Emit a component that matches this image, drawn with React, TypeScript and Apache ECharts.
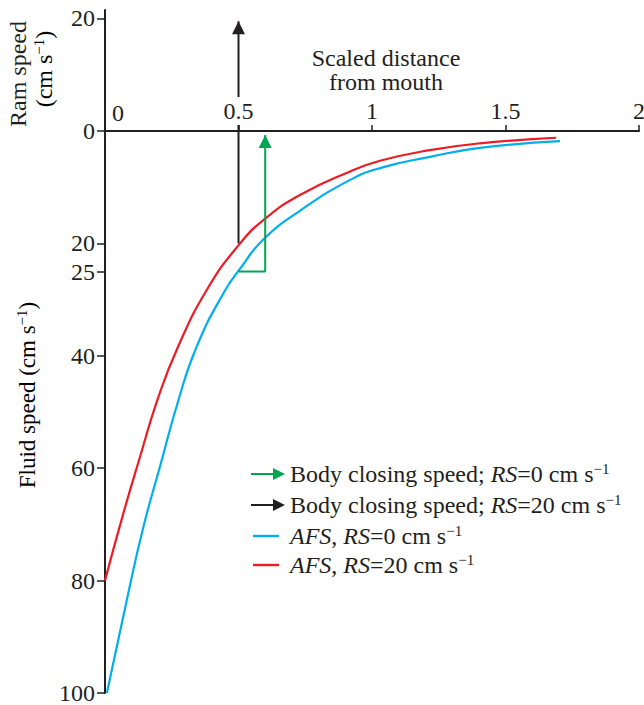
import React, { useEffect, useRef } from 'react';
import * as echarts from 'echarts';

// ---- data ----
const DIST_MIN = 0;
const DIST_MAX = 2;
const DIST_STEP = 0.5;
const FLUID_TICKS = [0, 20, 25, 40, 60, 80, 100];
const RAM_TICKS = [20];

// Ambient fluid speed (AFS), RS = 0 cm/s (blue)
const AFS_RS0_X = [0.007, 0.091, 0.144, 0.206, 0.275, 0.343, 0.443, 0.506, 0.593, 0.73, 0.918, 1.03, 1.217, 1.404, 1.704];
const AFS_RS0_Y = [100, 81.4, 70.4, 59.7, 47.9, 38.4, 28.9, 24.5, 19.3, 14.2, 8.7, 6.6, 4.6, 3.0, 1.8];

// Ambient fluid speed (AFS), RS = 20 cm/s (red)
const AFS_RS20_X = [0, 0.069, 0.131, 0.196, 0.268, 0.381, 0.506, 0.6, 0.73, 0.918, 1.03, 1.217, 1.404, 1.69];
const AFS_RS20_Y = [80, 68, 58, 47.9, 39, 28.3, 20.0, 15.6, 11.4, 7.2, 5.3, 3.4, 2.2, 1.2];

// Body closing speed, RS = 0 (green): fluid-speed panel path
const CLOSE_RS0_X = [0.5, 0.6, 0.6];
const CLOSE_RS0_Y = [25, 25, 0.7];

// Body closing speed, RS = 20 (black): fluid-speed part and ram-speed part
const CLOSE_RS20_FLUID_X = [0.5, 0.5];
const CLOSE_RS20_FLUID_Y = [20, 0];
const CLOSE_RS20_RAM_X = [0.5, 0.5];
const CLOSE_RS20_RAM_Y = [0, 19.5];

const N_CLOSE0 = 'Body closing speed; RS=0 cm s−1';
const N_CLOSE20 = 'Body closing speed; RS=20 cm s−1';
const N_AFS0 = 'AFS, RS=0 cm s−1';
const N_AFS20 = 'AFS, RS=20 cm s−1';

const FONT = '"Liberation Serif", "Times New Roman", serif';
const INK = '#231F20';
const BLUE = '#00AEEF';
const RED = '#ED1C24';
const GREEN = '#00A651';

const ARROW_ICON = 'path://M0,5H23V7H0Z M22,0L34,6L22,12Z';
const LINE_ICON = 'path://M0,0H26V2.4H0Z';

const zip = (xs: number[], ys: number[]) => xs.map((x, i) => [x, ys[i]]);

const arrowData = (xs: number[], ys: number[]) =>
  xs.map((x, i) =>
    i === xs.length - 1
      ? { value: [x, ys[i]], symbol: 'triangle', symbolSize: [13, 13], symbolOffset: [0, 6.5] }
      : { value: [x, ys[i]], symbol: 'none' }
  );

const richBase = {
  t: { fontFamily: FONT, fontSize: 24, color: INK },
  t0: { fontFamily: FONT, fontSize: 24, color: INK, fontStyle: 'italic', padding: [0, 0, 0, 6] },
  i: { fontFamily: FONT, fontSize: 24, color: INK, fontStyle: 'italic' },
  s: { fontFamily: FONT, fontSize: 15, color: INK, padding: [0, 0, 11, 0] },
  f: { fontFamily: FONT, fontSize: 23, color: INK },
};

const legendLabels: Record<string, string> = {
  [N_CLOSE0]: '{t|Body closing speed; }{i|RS}{t|=0 cm s}{s|−1}',
  [N_CLOSE20]: '{t|Body closing speed; }{i|RS}{t|=20 cm s}{s|−1}',
  [N_AFS0]: '{t0|AFS}{t|, }{i|RS}{t|=0 cm s}{s|−1}',
  [N_AFS20]: '{t0|AFS}{t|, }{i|RS}{t|=20 cm s}{s|−1}',
};

const axisLine = { show: true, onZero: false, lineStyle: { color: INK, width: 2 } };
const labelFont = { fontSize: 24, fontFamily: FONT, color: INK };

export default function App() {
  const ref = useRef<HTMLDivElement>(null);

  useEffect(() => {
    if (!ref.current) return;
    const chart = echarts.init(ref.current, null, { renderer: 'svg' });

    const option: any = {
      animation: false,
      backgroundColor: '#ffffff',
      grid: [
        // fluid speed panel (below the distance axis)
        { left: 105, top: 131, width: 534, height: 562, containLabel: false, outerBoundsMode: 'none' },
        // ram speed panel (above the distance axis)
        { left: 105, top: 10, width: 534, height: 121, containLabel: false, outerBoundsMode: 'none' },
      ],
      xAxis: [
        {
          gridIndex: 0,
          type: 'value',
          min: DIST_MIN,
          max: DIST_MAX,
          interval: DIST_STEP,
          position: 'top',
          z: 5,
          axisLine,
          axisTick: { show: true, length: 6, lineStyle: { color: INK, width: 1.5 } },
          axisLabel: {
            margin: 6,
            ...labelFont,
            formatter: (v: number) => (v === 0 ? '{z|0}' : '{b|' + v + '}'),
            rich: {
              z: { ...labelFont, padding: [0, 0, 0, 26] },
              b: { ...labelFont, backgroundColor: '#ffffff', padding: [2, 1, 2, 1] },
            },
          },
          splitLine: { show: false },
        },
        {
          gridIndex: 1,
          type: 'value',
          min: DIST_MIN,
          max: DIST_MAX,
          show: false,
          splitLine: { show: false },
        },
      ],
      yAxis: [
        {
          gridIndex: 0,
          type: 'value',
          inverse: true,
          min: 0,
          max: 100,
          axisLine,
          axisTick: { show: true, length: 8, customValues: FLUID_TICKS, lineStyle: { color: INK, width: 1.5 } },
          axisLabel: { customValues: FLUID_TICKS, margin: 10, ...labelFont },
          splitLine: { show: false },
        },
        {
          gridIndex: 1,
          type: 'value',
          min: 0,
          max: 21.5,
          axisLine,
          axisTick: { show: true, length: 8, customValues: RAM_TICKS, lineStyle: { color: INK, width: 1.5 } },
          axisLabel: { customValues: RAM_TICKS, margin: 10, ...labelFont },
          splitLine: { show: false },
        },
      ],
      legend: [
        {
          data: [
            { name: N_CLOSE0, icon: ARROW_ICON },
            { name: N_CLOSE20, icon: ARROW_ICON },
          ],
          orient: 'vertical',
          left: 251,
          top: 461,
          itemWidth: 34,
          itemHeight: 12,
          itemGap: 6,
          padding: 0,
          selectedMode: false,
          formatter: (n: string) => legendLabels[n],
          textStyle: { fontFamily: FONT, fontSize: 24, color: INK, rich: richBase },
        },
        {
          data: [
            { name: N_AFS0, icon: LINE_ICON },
            { name: N_AFS20, icon: LINE_ICON },
          ],
          orient: 'vertical',
          left: 253,
          top: 523,
          itemWidth: 26,
          itemHeight: 12,
          itemGap: 4,
          padding: 0,
          selectedMode: false,
          formatter: (n: string) => legendLabels[n],
          textStyle: { fontFamily: FONT, fontSize: 24, color: INK, rich: richBase },
        },
      ],
      series: [
        {
          name: N_AFS0,
          type: 'line',
          xAxisIndex: 0,
          yAxisIndex: 0,
          smooth: 0.5,
          symbol: 'none',
          color: BLUE,
          lineStyle: { color: BLUE, width: 2.2 },
          data: zip(AFS_RS0_X, AFS_RS0_Y),
        },
        {
          name: N_AFS20,
          type: 'line',
          xAxisIndex: 0,
          yAxisIndex: 0,
          smooth: 0.5,
          symbol: 'none',
          color: RED,
          lineStyle: { color: RED, width: 2.2 },
          data: zip(AFS_RS20_X, AFS_RS20_Y),
        },
        {
          name: N_CLOSE0,
          type: 'line',
          xAxisIndex: 0,
          yAxisIndex: 0,
          showSymbol: true,
          symbol: 'none',
          color: GREEN,
          itemStyle: { color: GREEN },
          lineStyle: { color: GREEN, width: 2 },
          data: arrowData(CLOSE_RS0_X, CLOSE_RS0_Y),
        },
        {
          name: N_CLOSE20,
          type: 'line',
          xAxisIndex: 0,
          yAxisIndex: 0,
          symbol: 'none',
          color: INK,
          itemStyle: { color: INK },
          lineStyle: { color: INK, width: 2 },
          data: zip(CLOSE_RS20_FLUID_X, CLOSE_RS20_FLUID_Y),
        },
        {
          name: N_CLOSE20,
          type: 'line',
          xAxisIndex: 1,
          yAxisIndex: 1,
          showSymbol: true,
          symbol: 'none',
          color: INK,
          itemStyle: { color: INK },
          lineStyle: { color: INK, width: 2 },
          clip: false,
          data: arrowData(CLOSE_RS20_RAM_X, CLOSE_RS20_RAM_Y),
        },
      ],
      graphic: [
        {
          type: 'text',
          x: 386,
          y: 70,
          style: {
            text: 'Scaled distance\nfrom mouth',
            fontFamily: FONT,
            fontSize: 24,
            lineHeight: 24,
            fill: INK,
            align: 'center',
            verticalAlign: 'middle',
          },
        },
        {
          type: 'text',
          x: 18,
          y: 74,
          rotation: Math.PI / 2,
          style: {
            text: 'Ram speed',
            fontFamily: FONT,
            fontSize: 24,
            fill: INK,
            align: 'center',
            verticalAlign: 'middle',
          },
        },
        {
          type: 'text',
          x: 44,
          y: 69,
          rotation: Math.PI / 2,
          style: {
            text: '{t|(cm s}{s|−1}{t|)}',
            rich: richBase,
            align: 'center',
            verticalAlign: 'middle',
          },
        },
        {
          type: 'text',
          x: 27,
          y: 395,
          rotation: Math.PI / 2,
          style: {
            text: '{f|Fluid speed (cm s}{s|−1}{f|)}',
            rich: richBase,
            align: 'center',
            verticalAlign: 'middle',
          },
        },
      ],
    };

    chart.setOption(option);
    return () => chart.dispose();
  }, []);

  return (
    <div
      ref={ref}
      style={{ position: 'fixed', left: 0, top: 0, width: 644, height: 705, background: '#fff' }}
    />
  );
}
